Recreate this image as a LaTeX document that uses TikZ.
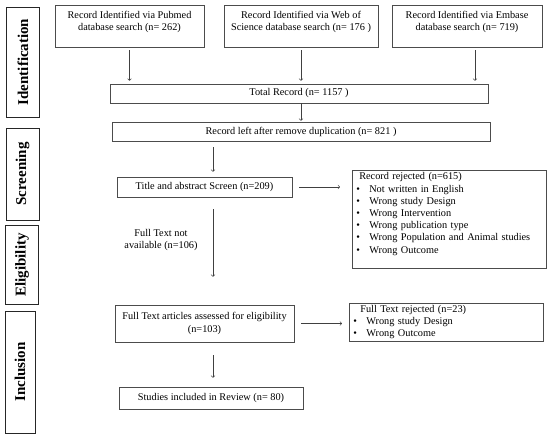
\documentclass[tikz,border=0pt]{standalone}
\usepackage{fontspec}
\setmainfont{Liberation Serif}
\usetikzlibrary{positioning,calc}

\newcommand{\itm}[1]{\makebox[14pt][l]{\hspace{1pt}\textbullet}#1}

\begin{document}
\begin{tikzpicture}[x=1pt, y=-1pt, >=to,
  every node/.style={rectangle, align=center, font=\fontsize{10.3}{12.2}\selectfont, inner sep=1pt},
  rec/.style={draw=black!70, line width=0.6pt},
  src/.style={rec, minimum height=42pt, text depth=10pt},
  stage/.style={draw=black!85, line width=0.9pt, rotate=90, font=\fontsize{15}{18}\selectfont\bfseries, minimum height=33pt},
  flow/.style={->, draw=black!75, line width=0.6pt}]
\useasboundingbox (0,0) rectangle (550,438);

\node (ident) [stage, minimum width=110pt] at (23,62) {Identification};
\node (screen) [stage, minimum width=92pt] at (22.5,174) {Screening};
\node (elig) [stage, minimum width=79pt] at (22,265) {Eligibility};
\node (incl) [stage, minimum width=122pt, minimum height=30pt] at (20,372) {Inclusion};

\node (pubmed) [src, minimum width=149pt] at (129.5,26) {Record Identified via Pubmed\\database search (n= 262)};
\node (wos) [src, minimum width=154pt] at (301,26) {Record Identified via Web of\\Science database search (n= 176 )};
\node (embase) [src, minimum width=150pt] at (467,26) {Record Identified via Embase\\database search (n= 719)};
\node (total) [rec, minimum width=378pt, minimum height=19pt] at (299,93.5) {Total Record (n= 1157 )};
\node (left) [rec, minimum width=378pt, minimum height=19pt] at (301,131.5) {Record left after remove duplication (n= 821 )};
\node (title) [rec, minimum width=175pt, minimum height=20pt] at (204.5,187) {Title and abstract Screen (n=209)};
\node (rejected) [rec, anchor=north west, text width=188pt, align=left, inner xsep=3pt, inner ysep=2.5pt] at (352,170)
  {\hspace*{4pt}Record rejected (n=615)\\
   \itm{Not written in English}\\
   \itm{Wrong study Design}\\
   \itm{Wrong Intervention}\\
   \itm{Wrong publication type}\\
   \itm{Wrong Population and Animal studies}\\
   \itm{Wrong Outcome}\\
   \mbox{}};
\node (na) at (161,240) {Full Text not\\available (n=106)};
\node (fulltext) [rec, minimum width=179pt, minimum height=37pt] at (204.5,323.5) {Full Text articles assessed for eligibility\\(n=103)};
\node (ftrej) [rec, anchor=north west, text width=188pt, align=left, inner xsep=3pt, inner ysep=2pt] at (349,303)
  {\hspace*{8pt}Full Text rejected (n=23)\\
   \itm{Wrong study Design}\\
   \itm{Wrong Outcome}};
\node (studies) [rec, minimum width=184pt, minimum height=22pt] at (211,398) {Studies included in Review (n= 80)};

\coordinate (spine) at (213,0);

\draw[flow, shorten <=3pt, shorten >=3pt] (pubmed.south) -- (pubmed.south |- total.north);
\draw[flow, shorten <=3pt, shorten >=3pt] (wos.south) -- (wos.south |- total.north);
\draw[flow, shorten <=3pt, shorten >=3pt] ([xshift=8pt]embase.south) -- ([xshift=8pt]embase.south |- total.north);
\draw[flow, shorten >=1pt] (total.south -| left) -- (left.north);
\draw[flow, shorten <=6pt, shorten >=5pt] (left.south -| spine) -- (title.north -| spine);
\draw[flow, shorten <=7pt, shorten >=12pt] (title.east) -- (title.east -| rejected.west);
\draw[flow, shorten <=12pt, shorten >=28pt] (title.south -| spine) -- (fulltext.north -| spine);
\draw[flow, shorten <=7pt, shorten >=7pt] (fulltext.east) -- (fulltext.east -| ftrej.west);
\draw[flow, shorten <=13pt, shorten >=9pt] (fulltext.south -| spine) -- (studies.north -| spine);
\end{tikzpicture}
\end{document}
